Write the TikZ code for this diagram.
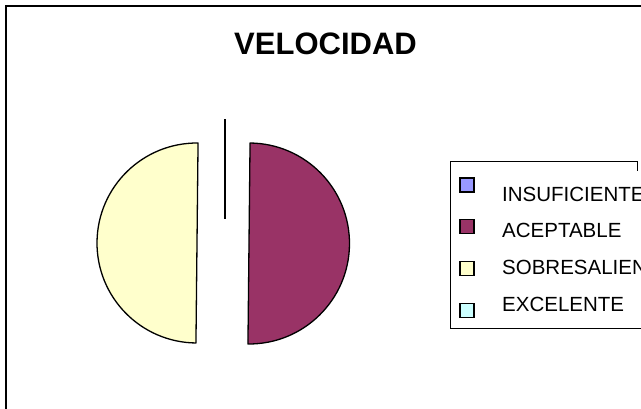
\documentclass[tikz,border=0pt]{standalone}
\usepackage{fontspec}
\setmainfont{Liberation Sans}
\usetikzlibrary{positioning}
\definecolor{insuf}{HTML}{9999FF}
\definecolor{acept}{HTML}{993366}
\definecolor{sobre}{HTML}{FFFFCC}
\definecolor{excel}{HTML}{CCFFFF}

\begin{document}
\begin{tikzpicture}[x=1pt,y=1pt]
    \tikzstyle{slice}=[draw=black, line width=1.3pt, line join=round]
    \tikzstyle{key}=[draw=black, line width=1.2pt, minimum size=14pt, inner sep=0pt]
    \tikzstyle{keytext}=[anchor=base west, inner sep=0pt, font=\fontsize{20.5}{24}\selectfont]

    \useasboundingbox (0,0) rectangle (641,409);
    \draw[line width=2pt] (5.5,-20) -- (5.5,402.5) -- (660,402.5);

    \node[anchor=base, inner sep=0pt, font=\bfseries\fontsize{31}{36}\selectfont] (title) at (325.5,354) {VELOCIDAD};

    % pie
    \coordinate (csobre) at (197,166);
    \coordinate (cacept) at (249,165.5);
    \fill[sobre] (csobre) -- ++(89.4:100) arc[start angle=89.4, end angle=269.4, radius=100] -- cycle;
    \draw[slice] (csobre) ++(89.4:100) arc[start angle=89.4, end angle=269.4, radius=100] -- cycle;
    \draw[slice, fill=acept] (cacept) ++(89.4:100.5) arc[start angle=89.4, end angle=-90.6, radius=100.5] -- cycle;
    \coordinate (cinsuf) at (225,190);
    \coordinate (tinsuf) at (225,290);
    \draw[line width=1.3pt] (cinsuf) -- (tinsuf);

    % legend
    \draw[line width=1pt] (450,80) -- (450,247) -- (637,247) -- (637,238);
    \draw[line width=1pt] (450,80) -- (660,80);
    \node[key, fill=insuf] (k1) at (467,224) {};
    \node[key, fill=acept] (k2) at (467,182.5) {};
    \node[key, fill=sobre] (k3) at (467,140.5) {};
    \node[key, fill=excel] (k4) at (467,98.5) {};
    \node[keytext] (t1) at (502,207) {INSUFICIENTE};
    \node[keytext] (t2) at (502,171) {ACEPTABLE};
    \node[keytext] (t3) at (502,134) {SOBRESALIENTE};
    \node[keytext] (t4) at (502,97) {EXCELENTE};
\end{tikzpicture}
\end{document}
